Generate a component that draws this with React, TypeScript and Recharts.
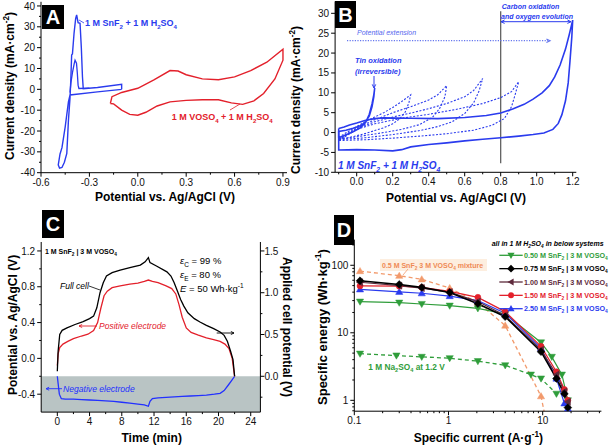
import React from 'react';
import { LineChart, Line, XAxis, YAxis, ReferenceLine, ReferenceArea } from 'recharts';

const FONT = "'Liberation Sans', Arial, Helvetica, sans-serif";

// ---------- Panel A: CV data (potential V, current mA/cm2) ----------
const A_SNF2_MAIN: number[][] = [
  [-0.1, 0.0], [-0.25, -1.2], [-0.42, -2.7], [-0.43, -6], [-0.45, -18], [-0.47, -28], [-0.482, -31],
  [-0.493, -36.3], [-0.485, -37.8], [-0.47, -37.5], [-0.455, -35], [-0.44, -30.7], [-0.43, -15],
  [-0.42, -4], [-0.415, 5], [-0.41, 16.5], [-0.405, 17], [-0.395, 27], [-0.385, 34], [-0.379, 35.7],
  [-0.37, 32], [-0.358, 31.7], [-0.35, 20], [-0.343, 6], [-0.338, 0.3], [-0.25, 0.9], [-0.1, 2.4], [-0.1, 0.0],
];
const A_SNF2_INNER: number[][] = [
  [-0.42, -1.5], [-0.415, 3], [-0.405, 8], [-0.395, 12], [-0.389, 14], [-0.38, 12.5], [-0.375, 8],
  [-0.37, 2], [-0.365, 0.4], [-0.3, 0.6],
];
const A_VOSO4: number[][] = [
  [-0.17, -6.8], [-0.16, -3.5], [-0.1, -1.5], [0, 0.5], [0.1, 4.5], [0.2, 9], [0.25, 8.8], [0.3, 7],
  [0.4, 5], [0.5, 4.6], [0.6, 6], [0.7, 9], [0.8, 13], [0.9, 19.3], [0.9, 14], [0.85, 5], [0.78, -2],
  [0.72, -5.5], [0.65, -7.2], [0.58, -6.5], [0.5, -5], [0.4, -5], [0.3, -5.3], [0.2, -6], [0.12, -8],
  [0.05, -11], [0, -12.4], [-0.05, -12], [-0.1, -10], [-0.15, -7], [-0.17, -6.8],
];
const A_X_TICKS = [-0.6, -0.3, 0, 0.3, 0.6, 0.9];
const A_X_MINOR = [-0.45, -0.15, 0.15, 0.45, 0.75];
const A_Y_TICKS = [-40, -30, -20, -10, 0, 10, 20, 30, 40];
const A_Y_MINOR = [-35, -25, -15, -5, 5, 15, 25, 35];

// ---------- Panel B: CV with potential extension ----------
const B_OUTER_12: number[][] = [
  [-0.1, 1.0], [-0.07, 1.4], [-0.04, 1.9], [0.0, 2.4], [0.05, 3.1], [0.1, 3.5], [0.15, 3.7], [0.3, 3.6],
  [0.45, 3.5], [0.6, 3.8], [0.72, 4.3], [0.8, 4.9], [0.87, 6.0], [0.93, 7.1], [0.98, 8.4], [1.03, 10.0],
  [1.07, 11.8], [1.1, 14.0], [1.13, 17.0], [1.16, 21.0], [1.18, 24.5], [1.2, 28.3], [1.195, 24],
  [1.185, 18], [1.175, 12.5], [1.16, 8], [1.14, 4.5], [1.12, 2.3], [1.09, 0.8], [1.04, -0.1], [0.98, -0.5],
  [0.9, -0.9], [0.8, -1.3], [0.7, -1.7], [0.6, -2.1], [0.5, -2.6], [0.4, -3.0], [0.3, -3.6], [0.25, -4.3],
  [0.2, -4.6], [0.1, -4.4], [0.0, -4.3], [-0.1, -4.4], [-0.1, 1.0],
];
const B_TIN_01: number[][] = [
  [-0.1, -1.3], [-0.06, -0.6], [-0.02, 0.2], [0.02, 1.2], [0.05, 2.6], [0.07, 4.6], [0.085, 7.2],
  [0.095, 9.5], [0.1, 11.2], [0.095, 9.0], [0.085, 6.5], [0.07, 4.2], [0.05, 2.7], [0.02, 1.7],
  [-0.02, 1.1], [-0.06, 0.6], [-0.1, 0.3], [-0.1, -1.3],
];
const B_DOT_03: number[][] = [
  [-0.1, -1.2], [-0.05, 0.2], [0.0, 1.5], [0.05, 2.8], [0.1, 3.9], [0.15, 5.0], [0.2, 6.3], [0.25, 7.8],
  [0.3, 9.5], [0.29, 7.5], [0.27, 5.2], [0.24, 3.5], [0.2, 2.2], [0.15, 1.2], [0.1, 0.5], [0.05, -0.2],
  [0, -0.8], [-0.05, -1.3], [-0.1, -1.5],
];
const B_DOT_05: number[][] = [
  [-0.1, -1.6], [0, 1.2], [0.1, 3.2], [0.2, 5.0], [0.3, 6.5], [0.4, 8.2], [0.45, 9.5], [0.5, 11.8],
  [0.49, 9.0], [0.46, 6.0], [0.42, 3.8], [0.35, 2.0], [0.25, 0.8], [0.15, 0], [0.05, -0.7], [-0.05, -1.4],
  [-0.1, -1.6],
];
const B_DOT_07: number[][] = [
  [-0.1, -1.8], [0, 1.0], [0.1, 2.7], [0.2, 3.9], [0.3, 4.9], [0.4, 6.0], [0.5, 7.3], [0.6, 9.0],
  [0.65, 10.6], [0.7, 13.6], [0.68, 10.5], [0.65, 7.5], [0.6, 4.8], [0.53, 2.7], [0.45, 1.5], [0.35, 0.5],
  [0.2, -0.5], [0.05, -1.3], [-0.1, -1.8],
];
const B_DOT_09: number[][] = [
  [-0.1, -2.0], [0, 0.8], [0.1, 2.2], [0.25, 3.6], [0.4, 4.6], [0.55, 5.8], [0.7, 7.3], [0.8, 8.8],
  [0.86, 10.3], [0.9, 12.8], [0.88, 9.5], [0.86, 6.5], [0.82, 3.5], [0.75, 1.8], [0.65, 0.6], [0.5, -0.3],
  [0.35, -0.9], [0.2, -1.4], [0.05, -1.8], [-0.1, -2.0],
];
const B_X_TICKS = [0, 0.2, 0.4, 0.6, 0.8, 1.0, 1.2];
const B_X_MINOR = [-0.1, 0.1, 0.3, 0.5, 0.7, 0.9, 1.1];
const B_Y_TICKS = [-10, -5, 0, 5, 10, 15, 20, 25, 30];

// ---------- Panel C: charge/discharge (time min) ----------
const C_FULL_CELL: number[][] = [ // right axis (applied cell potential)
  [0, 0.06], [0.1, 0.3], [0.3, 0.5], [0.6, 0.55], [1.2, 0.58], [2.2, 0.62], [3.2, 0.655], [4, 0.69],
  [4.5, 0.72], [4.9, 0.82], [5.3, 1.0], [5.7, 1.12], [6.1, 1.2], [6.8, 1.24], [7.8, 1.27], [9, 1.3],
  [10.3, 1.33], [10.9, 1.37], [11.3, 1.42], [11.5, 1.36], [12.3, 1.32], [13.6, 1.25], [14.1, 1.2],
  [14.5, 1.12], [14.9, 1.02], [15.3, 0.92], [15.7, 0.84], [16.2, 0.76], [17, 0.69], [17.7, 0.65],
  [18.5, 0.61], [19.4, 0.57], [20.2, 0.53], [20.7, 0.49], [21.1, 0.42], [21.5, 0.3], [21.8, 0.2], [22, 0.0],
];
const C_POSITIVE: number[][] = [ // left axis
  [0, -0.08], [0.1, 0.05], [0.3, 0.12], [0.7, 0.16], [1.3, 0.19], [2, 0.22], [3, 0.25], [3.8, 0.27],
  [4.5, 0.31], [5, 0.4], [5.4, 0.56], [5.8, 0.7], [6.2, 0.75], [6.8, 0.79], [7.8, 0.81], [9, 0.83],
  [10, 0.84], [10.8, 0.86], [11.3, 0.875], [11.8, 0.86], [12.5, 0.845], [13.5, 0.81], [14.2, 0.78],
  [14.7, 0.72], [15.1, 0.6], [15.5, 0.46], [16, 0.34], [16.6, 0.29], [17.5, 0.26], [18.5, 0.23],
  [19.4, 0.21], [20.2, 0.19], [20.8, 0.16], [21.3, 0.11], [21.7, 0.0], [22, -0.2],
];
const C_NEGATIVE: number[][] = [ // left axis
  [0, -0.2], [0.1, -0.28], [0.25, -0.4], [0.5, -0.45], [1, -0.455], [2, -0.455], [3, -0.46], [4, -0.465],
  [5, -0.47], [6, -0.475], [7, -0.48], [8, -0.49], [9, -0.5], [10, -0.51], [10.8, -0.52], [11.3, -0.535],
  [11.5, -0.48], [11.8, -0.45], [12.5, -0.44], [13.5, -0.435], [14.5, -0.43], [15.5, -0.425],
  [16.5, -0.42], [17.5, -0.415], [18.5, -0.41], [19.5, -0.4], [20.2, -0.39], [20.7, -0.36], [21.2, -0.3],
  [21.6, -0.25], [22, -0.2],
];
const C_X_TICKS = [0, 4, 8, 12, 16, 20, 24];
const C_X_MINOR = [2, 6, 10, 14, 18, 22];
const C_L_TICKS = [-0.4, 0, 0.4, 0.8, 1.2];
const C_L_MINOR = [-0.2, 0.2, 0.6, 1.0];
const C_R_TICKS = [0, 0.5, 1.0, 1.5];
const C_R_MINOR = [-0.25, 0.25, 0.75, 1.25];

// ---------- Panel D: Ragone plot ----------
const D_X_MAIN = [0.115, 0.3, 0.52, 1.03, 2.05, 4, 9.6, 14, 17, 18.5];
const D_X_050 = [0.115, 0.3, 0.52, 1.03, 2.05, 4, 9.6, 12.5, 16, 18.5];
const D_Y_050 = [28.9, 27.9, 26.7, 25.2, 23, 19, 7.2, 4.4, 2.4, 1.0];
const D_Y_075 = [59, 52, 47, 39.5, 27, 17.3, 5.25, 2.1, 1.25, 0.78];
const D_Y_100 = [56, 50, 46, 40, 29, 18, 5.6, 2.4, 1.35, 0.95];
const D_Y_150 = [49.5, 49, 47, 41, 33.5, 20.6, 6.3, 2.65, 1.45, 1.0];
const D_Y_250 = [44, 40.5, 38.5, 35, 30, 19.5, 5.9, 2.1, 0.9, 0.75];
const D_X_MIX = [0.115, 0.3, 0.52, 1.03, 2.05, 4, 9.6, 11];
const D_Y_MIX = [82, 70, 62, 46, 28, 12.8, 1.15, 0.45];
const D_X_NA = [0.115, 0.28, 0.52, 1.03, 2.05, 4, 7.5, 9.6, 14];
const D_Y_NA = [4.9, 4.6, 4.4, 4.2, 3.8, 3.3, 2.4, 2.1, 1.25];
const D_X_TICKS = [0.1, 1, 10];
const D_X_MINOR = [0.2, 0.3, 0.4, 0.5, 0.6, 0.7, 0.8, 0.9, 2, 3, 4, 5, 6, 7, 8, 9, 20, 30, 40];
const D_Y_TICKS = [1, 10, 100];
const D_Y_MINOR = [0.7, 0.8, 0.9, 2, 3, 4, 5, 6, 7, 8, 9, 20, 30, 40, 50, 60, 70, 80, 90, 200];
const D_LEGEND = [
  '0.50 M SnF_2 | 3 M VOSO_4',
  '0.75 M SnF_2 | 3 M VOSO_4',
  '1.00 M SnF_2 | 3 M VOSO_4',
  '1.50 M SnF_2 | 3 M VOSO_4',
  '2.50 M SnF_2 | 3 M VOSO_4',
];

// ---------- helpers ----------
const toXY = (a: number[][]) => a.map(([x, y]) => ({ x, y }));
const zipXY = (xs: number[], ys: number[]) => xs.map((x, i) => ({ x, y: ys[i] }));
const allTicks = (a: number[], b: number[]) => [...a, ...b].sort((p, q) => p - q);

const BLUE = '#2a3bee';
const RED = '#e3202b';
const GREEN = '#2f9d3a';
const MAROON = '#5e2a3c';
const ORANGE = '#f29a6c';

const axisLine = { stroke: '#000', strokeWidth: 1 };
const TS = 4; // tick size
const TM = 2; // tick margin

const isIn = (v: number, arr: number[]) => arr.some((m) => Math.abs(m - v) <= 1e-6 * Math.max(1, Math.abs(m)));

const mkTick = (side: 'bottom' | 'left' | 'right', majors: number[], fmt: (v: number) => string, margin = TM) => (p: any) => {
  const v = Number(p.payload.value);
  const major = isIn(v, majors);
  const len = major ? TS : 2;
  const common = { fontSize: 10, fill: '#111', fontFamily: FONT };
  if (side === 'bottom') {
    const ay = p.y - TS - margin;
    return (
      <g key={`t-${p.index}`}>
        <line x1={p.x} x2={p.x} y1={ay} y2={ay + len} stroke="#000" />
        {major && <text x={p.x} y={p.y} dy="0.71em" textAnchor="middle" {...common}>{fmt(v)}</text>}
      </g>
    );
  }
  if (side === 'left') {
    const ax = p.x + TS + margin;
    return (
      <g key={`t-${p.index}`}>
        <line x1={ax} x2={ax - len} y1={p.y} y2={p.y} stroke="#000" />
        {major && <text x={p.x} y={p.y} dy="0.355em" textAnchor="end" {...common}>{fmt(v)}</text>}
      </g>
    );
  }
  const ax = p.x - TS - margin;
  return (
    <g key={`t-${p.index}`}>
      <line x1={ax} x2={ax + len} y1={p.y} y2={p.y} stroke="#000" />
      {major && <text x={p.x} y={p.y} dy="0.355em" textAnchor="start" {...common}>{fmt(v)}</text>}
    </g>
  );
};

type Seg = { t: string; k: 'n' | 'b' | 'p' };
function parseRich(s: string): Seg[] {
  const out: Seg[] = [];
  let i = 0;
  let buf = '';
  while (i < s.length) {
    const c = s[i];
    if ((c === '_' || c === '^') && i + 1 < s.length) {
      if (buf) { out.push({ t: buf, k: 'n' }); buf = ''; }
      let t: string;
      if (s[i + 1] === '{') { const j = s.indexOf('}', i + 2); t = s.slice(i + 2, j); i = j + 1; }
      else { t = s[i + 1]; i += 2; }
      out.push({ t, k: c === '_' ? 'b' : 'p' });
    } else { buf += c; i++; }
  }
  if (buf) out.push({ t: buf, k: 'n' });
  return out;
}

function RT(props: {
  x: number; y: number; fs: number; s: string; fill?: string; bold?: boolean; italic?: boolean;
  anchor?: 'start' | 'middle' | 'end'; transform?: string;
}) {
  const { x, y, fs, s, fill = '#000', bold = false, italic = false, anchor = 'start', transform } = props;
  const segs = parseRich(s);
  let prev = 0;
  return (
    <text x={x} y={y} fontSize={fs} fill={fill} fontWeight={bold ? 'bold' : 'normal'}
      fontStyle={italic ? 'italic' : 'normal'} textAnchor={anchor} fontFamily={FONT} transform={transform}
      style={{ whiteSpace: 'pre' }}>
      {segs.map((g, i) => {
        const off = g.k === 'b' ? fs * 0.3 : g.k === 'p' ? -fs * 0.4 : 0;
        const dy = off - prev;
        prev = off;
        return <tspan key={i} dy={dy} fontSize={g.k === 'n' ? fs : fs * 0.68}>{g.t}</tspan>;
      })}
    </text>
  );
}

function VTitle({ cx, cy, fs, s, dir = -90 }: { cx: number; cy: number; fs: number; s: string; dir?: number }) {
  return <RT x={0} y={fs * 0.35} fs={fs} s={s} bold anchor="middle" transform={`translate(${cx},${cy}) rotate(${dir})`} />;
}

type ShapeKind = 'tdown' | 'tup' | 'tleft' | 'diamond' | 'circle';
function shapePath(kind: ShapeKind, cx: number, cy: number): string {
  switch (kind) {
    case 'tdown': return `M${cx - 3.6},${cy - 2.6}L${cx + 3.6},${cy - 2.6}L${cx},${cy + 3.6}Z`;
    case 'tup': return `M${cx - 3.6},${cy + 2.6}L${cx + 3.6},${cy + 2.6}L${cx},${cy - 3.6}Z`;
    case 'tleft': return `M${cx + 2.6},${cy - 3.6}L${cx + 2.6},${cy + 3.6}L${cx - 3.6},${cy}Z`;
    case 'diamond': return `M${cx},${cy - 3.9}L${cx + 3.9},${cy}L${cx},${cy + 3.9}L${cx - 3.9},${cy}Z`;
    default: return `M${cx - 3},${cy}A3,3 0 1,0 ${cx + 3},${cy}A3,3 0 1,0 ${cx - 3},${cy}Z`;
  }
}
const dotRenderer = (kind: ShapeKind, color: string) => (p: any) => (
  <path key={`d-${p.index}`} d={shapePath(kind, p.cx, p.cy)} fill={color} stroke={color} strokeWidth={0.5} />
);

function Arrow({ x1, y1, x2, y2, color, w = 1, dash, head = 4 }: {
  x1: number; y1: number; x2: number; y2: number; color: string; w?: number; dash?: string; head?: number;
}) {
  const ang = Math.atan2(y2 - y1, x2 - x1);
  const hx1 = x2 - head * Math.cos(ang - 0.45);
  const hy1 = y2 - head * Math.sin(ang - 0.45);
  const hx2 = x2 - head * Math.cos(ang + 0.45);
  const hy2 = y2 - head * Math.sin(ang + 0.45);
  return (
    <g>
      <line x1={x1} y1={y1} x2={x2} y2={y2} stroke={color} strokeWidth={w} strokeDasharray={dash} />
      <path d={`M${hx1},${hy1}L${x2},${y2}L${hx2},${hy2}`} fill="none" stroke={color} strokeWidth={w} />
    </g>
  );
}

function PanelBox({ x, y, w, h, label }: { x: number; y: number; w: number; h: number; label: string }) {
  return (
    <g>
      <rect x={x} y={y} width={w} height={h} fill="#000" />
      <text x={x + w / 2} y={y + h / 2 + 7} fontSize={20} fontWeight="bold" fill="#fff" textAnchor="middle" fontFamily={FONT}>{label}</text>
    </g>
  );
}

const f1 = (v: number) => v.toFixed(1);
const f0 = (v: number) => String(v);
const fLog = (v: number) => (v < 1 ? String(v) : String(Math.round(v)));

const lineCommon = { dot: false as const, activeDot: false as const, isAnimationActive: false, dataKey: 'y' };

export default function App() {
  return (
    <div style={{ position: 'absolute', left: 0, top: 0, width: 614, height: 447, background: '#fff', fontFamily: FONT, overflow: 'hidden' }}>
      {/* Panel A */}
      <div style={{ position: 'absolute', left: 0, top: 0 }}>
        <LineChart width={300} height={222} margin={{ top: 1.8, right: 13, bottom: 24.3, left: 6 }}>
          <XAxis type="number" dataKey="x" domain={[-0.6, 0.925]} ticks={allTicks(A_X_TICKS, A_X_MINOR)} interval={0}
            tickFormatter={f1} allowDataOverflow height={25} tick={mkTick('bottom', A_X_TICKS, f1)} axisLine={axisLine}
            tickLine={false} tickSize={TS} tickMargin={TM} />
          <YAxis type="number" domain={[-40, 42]} ticks={allTicks(A_Y_TICKS, A_Y_MINOR)} interval={0} allowDataOverflow width={35}
            tick={mkTick('left', A_Y_TICKS, f0)} axisLine={axisLine} tickLine={false} tickSize={TS} tickMargin={TM} />
          <Line {...lineCommon} data={toXY(A_SNF2_INNER)} stroke={BLUE} strokeWidth={1.3} />
          <Line {...lineCommon} data={toXY(A_SNF2_MAIN)} stroke={BLUE} strokeWidth={1.4} />
          <Line {...lineCommon} data={toXY(A_VOSO4)} stroke={RED} strokeWidth={1.4} />
        </LineChart>
      </div>

      {/* Panel B */}
      <div style={{ position: 'absolute', left: 300, top: 0 }}>
        <LineChart width={314} height={222} margin={{ top: 1.4, right: 37.7, bottom: 24.7, left: 5.1 }}>
          <XAxis type="number" dataKey="x" domain={[-0.12, 1.22]} ticks={allTicks(B_X_TICKS, B_X_MINOR)} interval={0}
            tickFormatter={f1} allowDataOverflow height={25} tick={mkTick('bottom', B_X_TICKS, f1)} axisLine={axisLine}
            tickLine={false} tickSize={TS} tickMargin={TM} />
          <YAxis type="number" domain={[-10, 33]} ticks={B_Y_TICKS} interval={0} allowDataOverflow width={30}
            tick={mkTick('left', B_Y_TICKS, f0)} axisLine={axisLine} tickLine={false} tickSize={TS} tickMargin={TM} />
          <ReferenceLine segment={[{ x: 0.8, y: -7.7 }, { x: 0.8, y: 30.5 }]} stroke="#555" strokeWidth={1.2} />
          {[B_DOT_03, B_DOT_05, B_DOT_07, B_DOT_09].map((d, i) => (
            <Line key={i} {...lineCommon} data={toXY(d)} stroke={BLUE} strokeWidth={1.1} strokeDasharray="2 1.6" />
          ))}
          <Line {...lineCommon} data={toXY(B_TIN_01)} stroke={BLUE} strokeWidth={1.6} />
          <Line {...lineCommon} data={toXY(B_OUTER_12)} stroke={BLUE} strokeWidth={1.6} />
        </LineChart>
      </div>

      {/* Panel C */}
      <div style={{ position: 'absolute', left: 0, top: 222 }}>
        <LineChart width={300} height={225} margin={{ top: 20, right: 9.6, bottom: 9.9, left: 11.2 }}>
          <XAxis type="number" dataKey="x" domain={[-2, 25.2]} ticks={allTicks(C_X_TICKS, C_X_MINOR)} interval={0}
            allowDataOverflow height={25} tick={mkTick('bottom', C_X_TICKS, f0)} axisLine={axisLine}
            tickLine={false} tickSize={TS} tickMargin={TM} />
          <YAxis yAxisId="L" type="number" domain={[-0.6, 1.3]} ticks={allTicks(C_L_TICKS, C_L_MINOR)} interval={0}
            tickFormatter={f1} allowDataOverflow width={30} tick={mkTick('left', C_L_TICKS, f1)} axisLine={axisLine}
            tickLine={false} tickSize={TS} tickMargin={TM} />
          <YAxis yAxisId="R" orientation="right" type="number" domain={[-0.42857, 1.60714]}
            ticks={allTicks(C_R_TICKS, C_R_MINOR)} interval={0} tickFormatter={f1} allowDataOverflow width={30}
            tick={mkTick('right', C_R_TICKS, f1, 0)} axisLine={axisLine} tickLine={false} tickSize={TS} tickMargin={0} />
          <ReferenceArea yAxisId="L" x1={-2} x2={25.2} y1={-0.6} y2={-0.2} fill="#b9c4c4" fillOpacity={1} stroke="none" />
          <Line {...lineCommon} yAxisId="L" data={toXY(C_NEGATIVE)} stroke="#2230ff" strokeWidth={1.3} />
          <Line {...lineCommon} yAxisId="L" data={toXY(C_POSITIVE)} stroke={RED} strokeWidth={1.3} />
          <Line {...lineCommon} yAxisId="R" data={toXY(C_FULL_CELL)} stroke="#000" strokeWidth={1.3} />
        </LineChart>
      </div>

      {/* Panel D */}
      <div style={{ position: 'absolute', left: 300, top: 222 }}>
        <LineChart width={314} height={225} margin={{ top: 17.6, right: 12.6, bottom: 10.8, left: 24.3 }}>
          <XAxis type="number" dataKey="x" scale="log" domain={[0.1, 42]} ticks={allTicks(D_X_TICKS, D_X_MINOR)} interval={0}
            allowDataOverflow height={25} tick={mkTick('bottom', D_X_TICKS, fLog)} axisLine={axisLine}
            tickLine={false} tickSize={TS} tickMargin={TM} />
          <YAxis type="number" scale="log" domain={[0.69, 240]} ticks={allTicks(D_Y_TICKS, D_Y_MINOR)} interval={0}
            allowDataOverflow width={30} tick={mkTick('left', D_Y_TICKS, fLog)} axisLine={axisLine}
            tickLine={false} tickSize={TS} tickMargin={TM} />
          <Line {...lineCommon} data={zipXY(D_X_MIX, D_Y_MIX)} stroke={ORANGE} strokeWidth={1.3} strokeDasharray="4 3"
            dot={dotRenderer('tup', ORANGE)} />
          <Line {...lineCommon} data={zipXY(D_X_NA, D_Y_NA)} stroke={GREEN} strokeWidth={1.3} strokeDasharray="4 3"
            dot={dotRenderer('tdown', GREEN)} />
          <Line {...lineCommon} data={zipXY(D_X_050, D_Y_050)} stroke={GREEN} strokeWidth={1.2} dot={dotRenderer('tdown', GREEN)} />
          <Line {...lineCommon} data={zipXY(D_X_MAIN, D_Y_250)} stroke={BLUE} strokeWidth={1.2} dot={dotRenderer('tup', BLUE)} />
          <Line {...lineCommon} data={zipXY(D_X_MAIN, D_Y_150)} stroke={RED} strokeWidth={1.2} dot={dotRenderer('circle', RED)} />
          <Line {...lineCommon} data={zipXY(D_X_MAIN, D_Y_100)} stroke={MAROON} strokeWidth={1.2} dot={dotRenderer('tleft', MAROON)} />
          <Line {...lineCommon} data={zipXY(D_X_MAIN, D_Y_075)} stroke="#000" strokeWidth={1.6} dot={dotRenderer('diamond', '#000')} />
        </LineChart>
      </div>

      {/* Overlay: titles, annotations, legend */}
      <svg width={614} height={447} style={{ position: 'absolute', left: 0, top: 0, pointerEvents: 'none' }}>
        {/* A */}
        <PanelBox x={42} y={5} w={22} h={24} label="A" />
        <VTitle cx={10} cy={86} fs={12} s="Current density (mA·cm^{-2})" />
        <RT x={165} y={201} fs={12} s="Potential vs. Ag/AgCl (V)" bold anchor="middle" />
        <line x1={79} y1={20} x2={84} y2={23} stroke={BLUE} strokeWidth={0.8} />
        <RT x={85} y={26} fs={9} s="1 M SnF_2 + 1 M H_2SO_4" bold fill={BLUE} />
        <line x1={230} y1={110} x2={240} y2={104} stroke={RED} strokeWidth={0.8} />
        <RT x={171.7} y={120} fs={9} s="1 M VOSO_4 + 1 M H_2SO_4" bold fill={RED} />

        {/* B */}
        <PanelBox x={335} y={1} w={21} h={27} label="B" />
        <VTitle cx={296} cy={100} fs={12} s="Current density (mA·cm^{-2})" />
        <RT x={456} y={202} fs={12} s="Potential vs. Ag/AgCl (V)" bold anchor="middle" />
        <RT x={501.7} y={8.5} fs={7} s="Carbon oxidation" bold italic fill={BLUE} />
        <RT x={501} y={18.5} fs={7} s="and oxygen evolution" bold italic fill={BLUE} />
        <Arrow x1={536} y1={21.7} x2={501} y2={21.7} color={BLUE} w={1} head={4} />
        <Arrow x1={536} y1={21.7} x2={571} y2={21.7} color={BLUE} w={1} head={4} />
        <RT x={357} y={35} fs={7} s="Potential extension" italic fill="#5566ee" />
        <Arrow x1={347} y1={40.7} x2={550} y2={40.7} color="#6677ee" w={1.2} dash="1.2 1.4" head={4} />
        <RT x={355} y={63} fs={7.5} s="Tin oxidation" bold italic fill={BLUE} />
        <RT x={355} y={74} fs={7.5} s="(irreversible)" bold italic fill={BLUE} />
        <Arrow x1={374} y1={76} x2={374} y2={88} color={BLUE} w={1} head={4} />
        <RT x={338} y={168.5} fs={10} s="1 M SnF_2 + 1 M H_2SO_4" bold italic fill={BLUE} />

        {/* C */}
        <PanelBox x={42} y={210} w={22} h={28} label="C" />
        <VTitle cx={13} cy={325} fs={12} s="Potential vs. Ag/AgCl (V)" />
        <VTitle cx={287} cy={327} fs={12} s="Applied cell potential (V)" dir={90} />
        <RT x={151.7} y={442} fs={12} s="Time (min)" bold anchor="middle" />
        <RT x={45} y={254} fs={7} s="1 M SnF_2 | 3 M VOSO_4" bold />
        <text x={180} y={264} fontSize={9.5} fontFamily={FONT}>
          <tspan fontStyle="italic">ε</tspan><tspan fontSize={6.5} dy={2.8}>C</tspan><tspan dy={-2.8}> = 99 %</tspan>
        </text>
        <text x={180} y={278} fontSize={9.5} fontFamily={FONT}>
          <tspan fontStyle="italic">ε</tspan><tspan fontSize={6.5} dy={2.8}>E</tspan><tspan dy={-2.8}> = 80 %</tspan>
        </text>
        <text x={180} y={292} fontSize={9.5} fontFamily={FONT}>
          <tspan fontStyle="italic">E</tspan><tspan> = 50 Wh·kg</tspan><tspan fontSize={6.5} dy={-3.8}>-1</tspan>
        </text>
        <text x={60} y={289} fontSize={8.5} fontStyle="italic" fontFamily={FONT}>Full cell</text>
        <line x1={89} y1={286} x2={100} y2={290} stroke="#000" strokeWidth={0.8} />
        <text x={99} y={329} fontSize={8.5} fontStyle="italic" fill={RED} fontFamily={FONT}>Positive electrode</text>
        <Arrow x1={97} y1={326} x2={79} y2={326} color={RED} w={0.9} head={3.5} />
        <text x={63} y={391.5} fontSize={8.6} fontStyle="italic" fill="#2230ff" fontFamily={FONT}>Negative electrode</text>
        <Arrow x1={62} y1={388.7} x2={46} y2={388.7} color="#2230ff" w={0.9} head={3.5} />
        <Arrow x1={216.7} y1={333} x2={234} y2={333} color="#000" w={0.9} head={3.5} />

        {/* D */}
        <PanelBox x={334} y={215} w={20} h={30} label="D" />
        <VTitle cx={322} cy={327} fs={13} s="Specific energy (Wh·kg^{-1})" />
        <RT x={478.3} y={442} fs={12} s="Specific current (A·g^{-1})" bold anchor="middle" />
        <RT x={491.7} y={246} fs={7} s="all in 1 M H_2SO_4 in below systems" bold italic />
        {D_LEGEND.map((lab, i) => {
          const y = 255.3 + i * 13.35;
          const colors = [GREEN, '#000', MAROON, RED, BLUE];
          const kinds: ShapeKind[] = ['tdown', 'diamond', 'tleft', 'circle', 'tup'];
          return (
            <g key={lab + i}>
              <line x1={499.3} y1={y} x2={522.7} y2={y} stroke={colors[i]} strokeWidth={1.3} />
              <path d={shapePath(kinds[i], 511, y)} fill={colors[i]} />
              <RT x={524} y={y + 2.6} fs={7.2} s={lab} bold fill={colors[i]} />
            </g>
          );
        })}
        <rect x={380} y={259} width={107} height={12} fill="#fdeedf" />
        <line x1={403} y1={275} x2={408} y2={269} stroke={ORANGE} strokeWidth={0.8} />
        <RT x={382} y={267.5} fs={7} s="0.5 M SnF_2 3 M VOSO_4 mixture" bold fill="#ef8a55" />
        <RT x={368.3} y={370} fs={8.3} s="1 M Na_2SO_4 at 1.2 V" bold fill={GREEN} />
      </svg>
    </div>
  );
}
